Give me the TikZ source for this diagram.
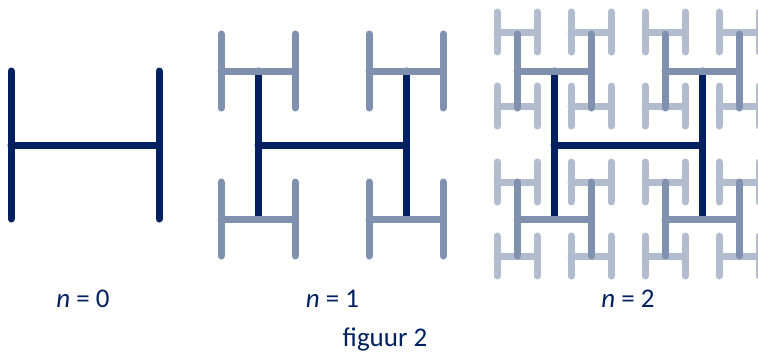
\documentclass[tikz,border=0pt]{standalone}
\usepackage{fontspec}
\setmainfont{Carlito}
\usepackage{tikz}
\usetikzlibrary{positioning}
\definecolor{navy}{HTML}{002060}
\newcommand{\Hfig}[4]{\draw[#4] (#1-#3,#2-#3) -- (#1-#3,#2+#3) (#1-#3,#2) -- (#1+#3,#2) (#1+#3,#2-#3) -- (#1+#3,#2+#3);}

\begin{document}
\begin{tikzpicture}[x=1pt, y=-1pt]
		\tikzstyle{dark} = [navy, line width=7pt, line cap=round]
		\tikzstyle{mid} = [navy!50!white, line width=7pt, line cap=round]
		\tikzstyle{light} = [navy!30!white, line width=7pt, line cap=round]
		\tikzstyle{lbl} = [text=navy, font=\fontsize{27}{32}\selectfont, inner sep=0pt]

		\clip (0,0) rectangle (758,354);

		% n = 0
		\begin{scope}
		\Hfig{85}{145}{74}{dark}
		\end{scope}

		% n = 1
		\begin{scope}
		\Hfig{332}{145}{74}{dark}
		\foreach \x in {258,406} {
			\foreach \y in {71,219} {
				\Hfig{\x}{\y}{37}{mid}
			}
		}
		\end{scope}

		% n = 2
		\begin{scope}
		\foreach \x in {517,591,665,739} {
			\foreach \y in {32,106,182,256} {
				\Hfig{\x}{\y}{20}{light}
			}
		}
		\Hfig{628}{145}{74}{dark}
		\foreach \x in {554,702} {
			\foreach \y in {71,219} {
				\Hfig{\x}{\y}{37}{mid}
			}
		}
		\end{scope}

		\path
		node[lbl] at (83,298.5) (n0) {\textit{n} = 0}
		node[lbl] at (332.5,298.5) (n1) {\textit{n} = 1}
		node[lbl] at (628,298.5) (n2) {\textit{n} = 2}
		node[lbl, anchor=base] at (385,346) (cap) {figuur 2}
		;
\end{tikzpicture}
\end{document}
